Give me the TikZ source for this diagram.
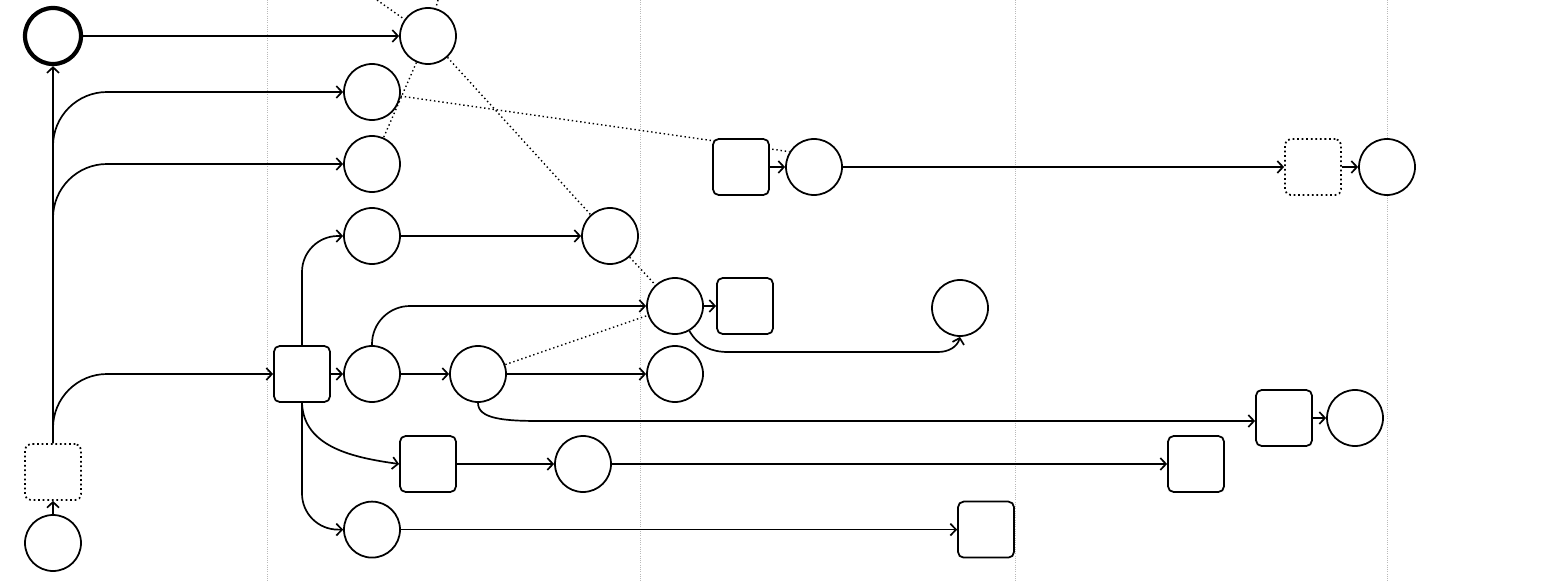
\documentclass[tikz,border=0pt]{standalone}
\usetikzlibrary{arrows.meta, backgrounds}

\begin{document}
\begin{tikzpicture}[
        place/.style={circle, draw, line width=1.25pt, fill=white, minimum size=1.4cm, inner sep=0pt},
        trans/.style={rectangle, draw, line width=1.25pt, rounded corners=4pt, fill=white, minimum size=1.4cm, inner sep=0pt},
        silent/.style={trans, dotted},
        arc/.style={line width=1.2pt, -{Straight Barb[length=4pt,width=8.5pt]}},
        link/.style={line width=1pt, dotted},
        lane/.style={gray!55, densely dotted, line width=0.6pt}]
        \useasboundingbox (0, 0) rectangle (39.2, -14.525);
        \draw[lane] (6.675, 0) -- (6.675, -14.525);
        \draw[lane] (16, 0) -- (16, -14.525);
        \draw[lane] (25.375, 0) -- (25.375, -14.525);
        \draw[lane] (34.675, 0) -- (34.675, -14.525);

        % left column
        \node[place] (pstart) at (1.325, -13.575) {};
        \node[silent] (tinit) at (1.325, -11.8) {};
        \node[place, line width=3pt] (pend) at (1.325, -0.9) {};

        % second column
        \node[place] (pa1) at (10.7, -0.9) {};
        \node[place] (pa2) at (9.3, -2.3) {};
        \node[place] (pa3) at (9.3, -4.1) {};
        \node[place] (pb1) at (9.3, -5.9) {};
        \node[place] (pb2) at (15.25, -5.9) {};
        \node[trans] (tsplit) at (7.55, -9.35) {};
        \node[place] (pd1) at (9.3, -9.35) {};
        \node[place] (pd2) at (11.95, -9.35) {};
        \node[place] (pd3) at (16.875, -9.35) {};
        \node[place] (pc1) at (16.875, -7.65) {};
        \node[trans] (tc2) at (18.625, -7.65) {};
        \node[place] (pc3) at (24, -7.7) {};
        \node[trans] (te1) at (10.7, -11.6) {};
        \node[place] (pe2) at (14.575, -11.6) {};
        \node[trans] (te3) at (29.9, -11.6) {};
        \node[place] (pf1) at (9.3, -13.24) {};
        \node[trans] (tf2) at (24.65, -13.24) {};

        % upper right row
        \node[trans] (tg1) at (18.525, -4.175) {};
        \node[place] (pg2) at (20.35, -4.175) {};
        \node[silent] (tg3) at (32.825, -4.175) {};
        \node[place] (pg4) at (34.675, -4.175) {};
        \node[trans] (th1) at (32.1, -10.45) {};
        \node[place] (ph2) at (33.875, -10.45) {};

        \coordinate (up1) at (9.425, 0);
        \coordinate (up2) at (10.95, 0);

        \begin{pgfonlayer}{background}
        \draw[link] (up1) -- (pa1);
        \draw[link] (up2) -- (pa1);
        \draw[link] (pa1) -- (pa3);
        \draw[link] (pa1) -- (pb2);
        \draw[link] (pa2) -- (pg2.148);
        \draw[link] (pb2) -- (pc1);
        \draw[link] (pd2) -- (pc1);
        \end{pgfonlayer}

        \draw[arc] (pstart) -- (tinit);
        \draw[arc] (tinit) -- (pend);
        \draw[arc, rounded corners=1.35cm] (tinit.north) |- (pa2);
        \draw[arc, rounded corners=1.35cm] (tinit.north) |- (pa3);
        \draw[arc, rounded corners=1.35cm] (tinit.north) |- (tsplit);
        \draw[arc] (pend) -- (pa1);

        \draw[arc, rounded corners=0.9cm] (tsplit.north) |- (pb1);
        \draw[arc] (tsplit) -- (pd1);
        \draw[arc] (tsplit.south) to[out=-88, in=172] (te1.west);
        \draw[arc, rounded corners=0.9cm] (tsplit.south) |- (pf1);

        \draw[arc] (pb1) -- (pb2);
        \draw[arc, rounded corners=0.95cm] (pd1.north) |- (pc1);
        \draw[arc] (pc1) -- (tc2);
        \draw[arc] (pc1.-60) to[out=-60, in=180] (18.2, -8.8) -- (23.45, -8.8) to[out=0, in=-105] (pc3.south);
        \draw[arc] (pd1) -- (pd2);
        \draw[arc] (pd2) -- (pd3);
        \draw[arc] (pd2.south) .. controls +(0, -0.4) and +(-0.9, 0) .. (13.5, -10.525) -- ([yshift=-0.075cm]th1.west);
        \draw[arc] (th1) -- (ph2);
        \draw[arc] (te1) -- (pe2);
        \draw[arc] (pe2) -- (te3);
        \draw[arc] (pf1) -- (tf2);

        \draw[arc] (tg1) -- (pg2);
        \draw[arc] (pg2) -- (tg3);
        \draw[arc] (tg3) -- (pg4);
\end{tikzpicture}
\end{document}
